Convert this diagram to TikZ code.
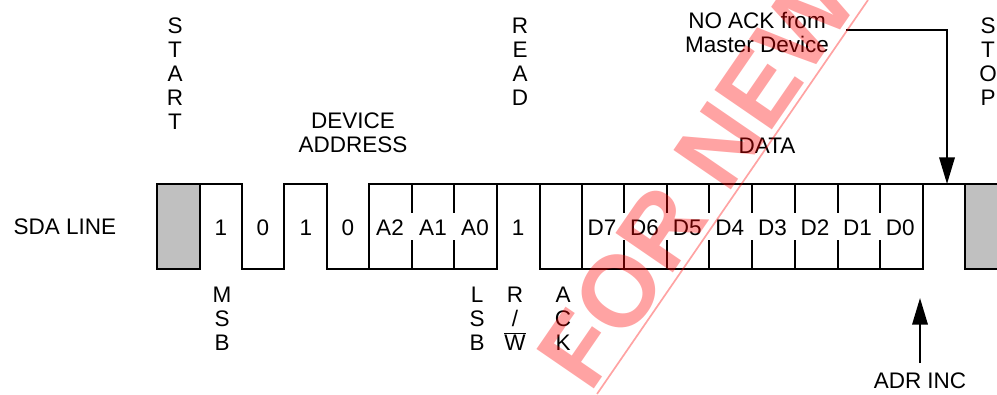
\documentclass[tikz,border=0pt]{standalone}
\usepackage{fontspec}
\setmainfont{Liberation Sans}
\usetikzlibrary{arrows.meta}
\definecolor{sgray}{HTML}{C0C0C0}
\newcommand{\lblfont}{\fontsize{16}{17}\selectfont}
\tikzset{
  sig/.style={line width=1.5pt},
  bitlbl/.style={inner sep=0pt, anchor=center},
  vword/.style={inner sep=0pt, anchor=north, align=center},
  arr/.style={line width=1.5pt, -{Triangle[length=19pt,width=11pt]}},
  wmark/.style={text=red, text opacity=0.36, inner sep=0pt, font=\bfseries\fontsize{72}{72}\selectfont}
}
\begin{document}
\begin{tikzpicture}[x=0.025cm, y=-0.025cm, font=\lblfont]
        \useasboundingbox (0,0) rectangle (997,394);

        \node[bitlbl] (sda) at (65,227) {SDA LINE};
        \node[vword] (start) at (175,18) {S\\T\\A\\R\\T};
        \node[vword] (read) at (520,18) {R\\E\\A\\D};
        \node[vword] (stop) at (988,18) {S\\T\\O\\P};
        \node[vword] (devaddr) at (353,113) {DEVICE\\ADDRESS};
        \node[vword] (data) at (767,138) {DATA};
        \node[vword] (noack) at (757,12) {NO ACK from\\Master Device};

        \node[vword] (msb) at (222,287) {M\\S\\B};
        \node[vword] (lsb) at (477,287) {L\\S\\B};
        \node[vword] (rw) at (515,287) {R\\/\\$\overline{\mbox{W}}$};
        \node[vword] (ack) at (563,287) {A\\C\\K};
        \node[vword] (adrinc) at (920,373) {ADR INC};

        \filldraw[sig, fill=sgray] (157,184) rectangle (200,269);
        \filldraw[sig, fill=sgray] (965,184) rectangle (1010,269);
        \draw[sig] (200,184) -| (242,269) -| (284,184) -| (327,269) -| (369,184) -- (1000,184);
        \draw[sig] (369,184) -- (369,269) -- (497,269) -- (497,184);
        \draw[sig] (540,184) -- (540,269) -- (923,269) -- (923,184);
        \draw[sig] (582,184) -- (582,269);
        \foreach \x in {412,454,624,667,709,752,795,838,880}
          \draw[sig] (\x,184) -- (\x,213) (\x,240) -- (\x,269);

        \foreach \x/\t in {221/1,263/0,306/1,348/0,390/A2,433/A1,475/A0,518/1}
          \node[bitlbl] (bit\x) at (\x,228) {\t};
        \foreach \t [count=\i from 0] in {D7,D6,D5,D4,D3,D2,D1,D0}
          \node[bitlbl] (d\i) at (602+42.6*\i,228) {\t};

        \coordinate (nacktip) at (947,184);
        \coordinate (adrtip) at (920,298);
        \draw[arr] ([xshift=0.42cm,yshift=0.07cm]noack.east) -| (nacktip);
        \draw[arr] ([yshift=0.25cm]adrinc.north) -- (adrtip);

        \node[wmark, anchor=base west, rotate=55.5] (wm) at (590,395) {FOR NEW};
        \draw[red, opacity=0.36, line width=1.2pt] (597,394) -- (868,0);
      \end{tikzpicture}
\end{document}
